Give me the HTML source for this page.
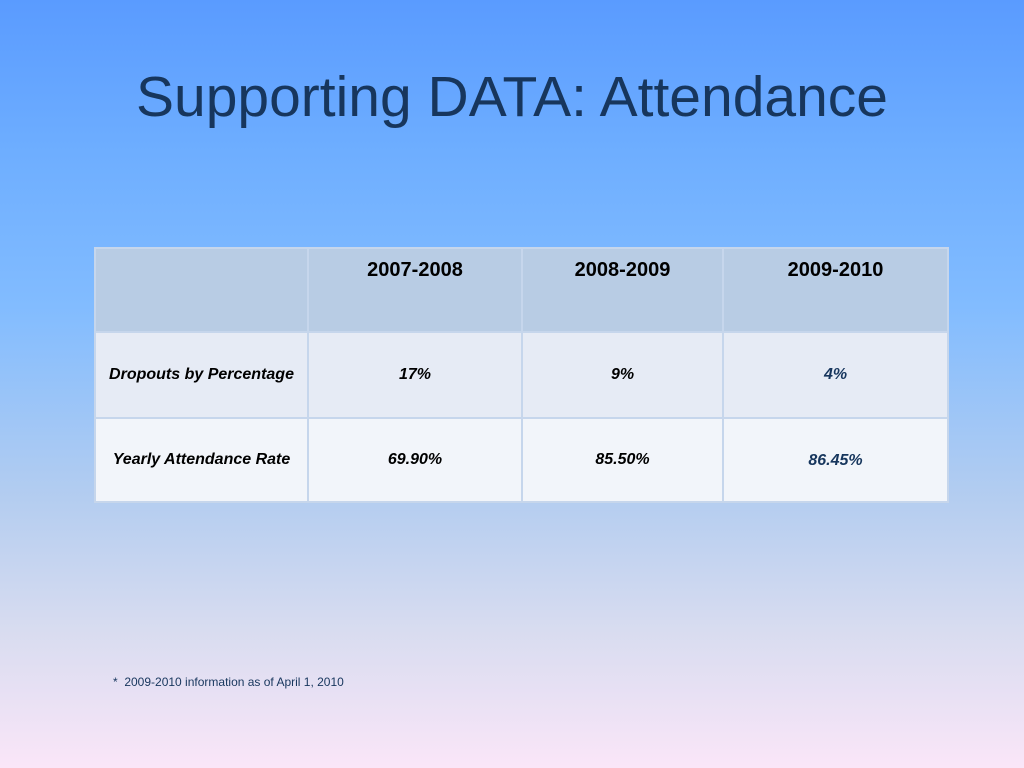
<!DOCTYPE html>
<html><head><meta charset="utf-8"><style>
body{margin:0;width:1024px;height:768px;overflow:hidden;font-family:"Liberation Sans",sans-serif;
background:linear-gradient(180deg,#5a9bff 0%,#6eaeff 20%,#82bcff 40%,#b4cdf0 65%,#d8dcf0 82%,#fae6f8 100%);position:relative}
h1{position:absolute;left:0;width:1024px;top:64px;margin:0;text-align:center;font-weight:normal;font-size:57px;color:#17365d;letter-spacing:0}
table{position:absolute;left:94px;top:247px;border-collapse:collapse;width:853px;table-layout:fixed}
td{border:2px solid #c6d6ec;text-align:center;font-size:16px;font-weight:bold;font-style:italic;color:#000;padding:0;box-sizing:border-box}
tr.h td{background:#b8cce4;height:84px;vertical-align:top;font-style:normal;font-size:20px;padding-top:10px}
tr.r1 td{background:#e6ebf5;height:86px}
tr.r2 td{background:#f2f5fa;height:84px}
td.c{color:#17365d;vertical-align:top;padding-top:33px}
.note{position:absolute;left:113px;top:675px;font-size:12px;color:#17365d}
</style></head><body>
<h1>Supporting DATA: Attendance</h1>
<table>
<colgroup><col style="width:213px"><col style="width:214px"><col style="width:201px"><col style="width:225px"></colgroup>
<tr class="h"><td></td><td>2007-2008</td><td>2008-2009</td><td>2009-2010</td></tr>
<tr class="r1"><td>Dropouts by Percentage</td><td>17%</td><td>9%</td><td class="c">4%</td></tr>
<tr class="r2"><td>Yearly Attendance Rate</td><td>69.90%</td><td>85.50%</td><td class="c">86.45%</td></tr>
</table>
<div class="note">*&nbsp; 2009-2010 information as of April 1, 2010</div>
</body></html>
